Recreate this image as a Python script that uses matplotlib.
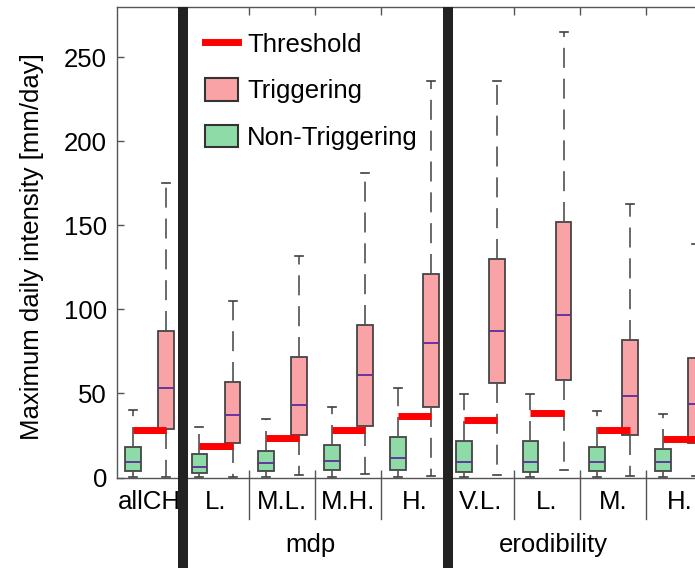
import matplotlib
matplotlib.use("Agg")
import matplotlib.pyplot as plt
from matplotlib.lines import Line2D
from matplotlib.patches import Patch

plt.rcParams['font.family'] = ['Liberation Sans', 'DejaVu Sans']
FS = 18.5

groups = ['allCH', 'L.', 'M.L.', 'M.H.', 'H.', 'V.L.', 'L.', 'M.', 'H.']
threshold = [28, 18.5, 23.5, 28.5, 36.5, 34.5, 38.5, 28.5, 23]

# non-triggering events
non_q1 = [3.8, 2.8, 3.8, 4.6, 4.6, 3.0, 3.0, 3.6, 3.6]
non_med = [9.1, 6.5, 8.5, 9.7, 11.7, 9.1, 9.1, 9.1, 9.1]
non_q3 = [18.0, 13.7, 15.7, 19.2, 24.0, 21.8, 21.8, 17.9, 17.1]
non_lo = [0.5, 0.5, 0.5, 0.5, 0.5, 0.3, 0.3, 0.3, 0.3]
non_hi = [40.0, 30.0, 35.0, 41.7, 53.2, 49.6, 49.6, 39.7, 37.5]

# triggering events
trig_q1 = [29.0, 20.6, 25.0, 30.4, 41.9, 56.4, 57.9, 25.4, 20.5]
trig_med = [53.2, 36.9, 43.3, 60.9, 80.0, 87.3, 96.8, 48.4, 43.9]
trig_q3 = [87.0, 56.7, 71.6, 90.7, 121.4, 130.3, 152.0, 81.7, 71.0]
trig_lo = [0.5, 0.5, 1.2, 1.8, 0.6, 1.2, 4.4, 0.6, 0.6]
trig_hi = [175.0, 105.0, 132.0, 181.5, 235.7, 236.0, 265.0, 163.0, 139.0]

group_names = ['mdp', 'erodibility']
group_label_x = [6.34, 13.68]
thick_sep = [2.5, 10.5]
thin_sep = [4.5, 6.5, 8.5, 12.5, 14.5, 16.5]

PINK = '#f9a3a7'
GREEN = '#8fdba8'
EDGE = '#454545'
MEDIAN = '#5a2d9c'
RED = '#ff0000'

W, H = 695, 568
fig = plt.figure(figsize=(W / 100, H / 100), dpi=100)
ax = fig.add_axes([116.7 / W, 90.5 / H, 595.8 / W, 470.5 / H])


def stats(q1, med, q3, lo, hi):
    return [dict(q1=a, med=b, q3=c, whislo=d, whishi=e, fliers=[])
            for a, b, c, d, e in zip(q1, med, q3, lo, hi)]


pos_non = [2 * i + 1 for i in range(len(groups))]
pos_trig = [2 * i + 2 for i in range(len(groups))]

common = dict(widths=0.48, capwidths=0.24, patch_artist=True, manage_ticks=False,
              showfliers=False,
              whiskerprops=dict(color='#505050', lw=1.2, linestyle=(0, (12, 6.5))),
              capprops=dict(color='#404040', lw=1.2),
              medianprops=dict(color=MEDIAN, lw=1.3))
ax.bxp(stats(non_q1, non_med, non_q3, non_lo, non_hi), positions=pos_non,
       boxprops=dict(facecolor=GREEN, edgecolor=EDGE, lw=1.3), **common)
ax.bxp(stats(trig_q1, trig_med, trig_q3, trig_lo, trig_hi), positions=pos_trig,
       boxprops=dict(facecolor=PINK, edgecolor=EDGE, lw=1.3), **common)

for xg, xt, t in zip(pos_non, pos_trig, threshold):
    ax.plot([xg, xt], [t, t], color=RED, lw=5, solid_capstyle='butt', zorder=5)

ax.set_xlim(0.5, 18.5)
ax.set_ylim(0, 280)
ax.set_yticks([0, 50, 100, 150, 200, 250])
ax.tick_params(axis='y', direction='in', length=5, width=1, colors='#555555',
               labelcolor='black', labelsize=FS, pad=7)
ax.set_xticks([p + 0.5 for p in pos_non])
ax.set_xticklabels(groups)
ax.tick_params(axis='x', which='major', length=0, labelsize=FS, pad=9)
ax.set_xticks(thin_sep, minor=True)
ax.tick_params(axis='x', which='minor', direction='in', length=6, width=1,
               colors='#555555', top=True, bottom=True)
for s in ax.spines.values():
    s.set_color('#555555')
    s.set_linewidth(1)

# group separators running under the tick labels
for x in thin_sep:
    ax.plot([x, x], [0, -24.5], color='#555555', lw=1, clip_on=False, zorder=6)
for x in thick_sep:
    ax.plot([x, x], [280, -60], color='#222222', lw=7.2, solid_capstyle='butt',
            clip_on=False, zorder=7)

for name, x in zip(group_names, group_label_x):
    ax.text(x, -40, name, ha='center', va='center', fontsize=FS, clip_on=False)

ax.set_ylabel('Maximum daily intensity [mm/day]', fontsize=FS)
ax.yaxis.set_label_coords(-0.142, 0.49)
ax.yaxis.label.set_va('center')

handles = [Line2D([], [], color=RED, lw=5),
           Patch(facecolor=PINK, edgecolor='#333333', lw=1.5),
           Patch(facecolor=GREEN, edgecolor='#333333', lw=1.5)]
ax.legend(handles, ['Threshold', 'Triggering', 'Non-Triggering'],
          loc='upper left', bbox_to_anchor=(205 / W, 1 - 32 / H),
          bbox_transform=fig.transFigure, frameon=False, fontsize=FS,
          borderpad=0, borderaxespad=0, handlelength=1.28, handleheight=0.97,
          handletextpad=0.35, labelspacing=0.83)

fig.savefig('out.png', dpi=100)
